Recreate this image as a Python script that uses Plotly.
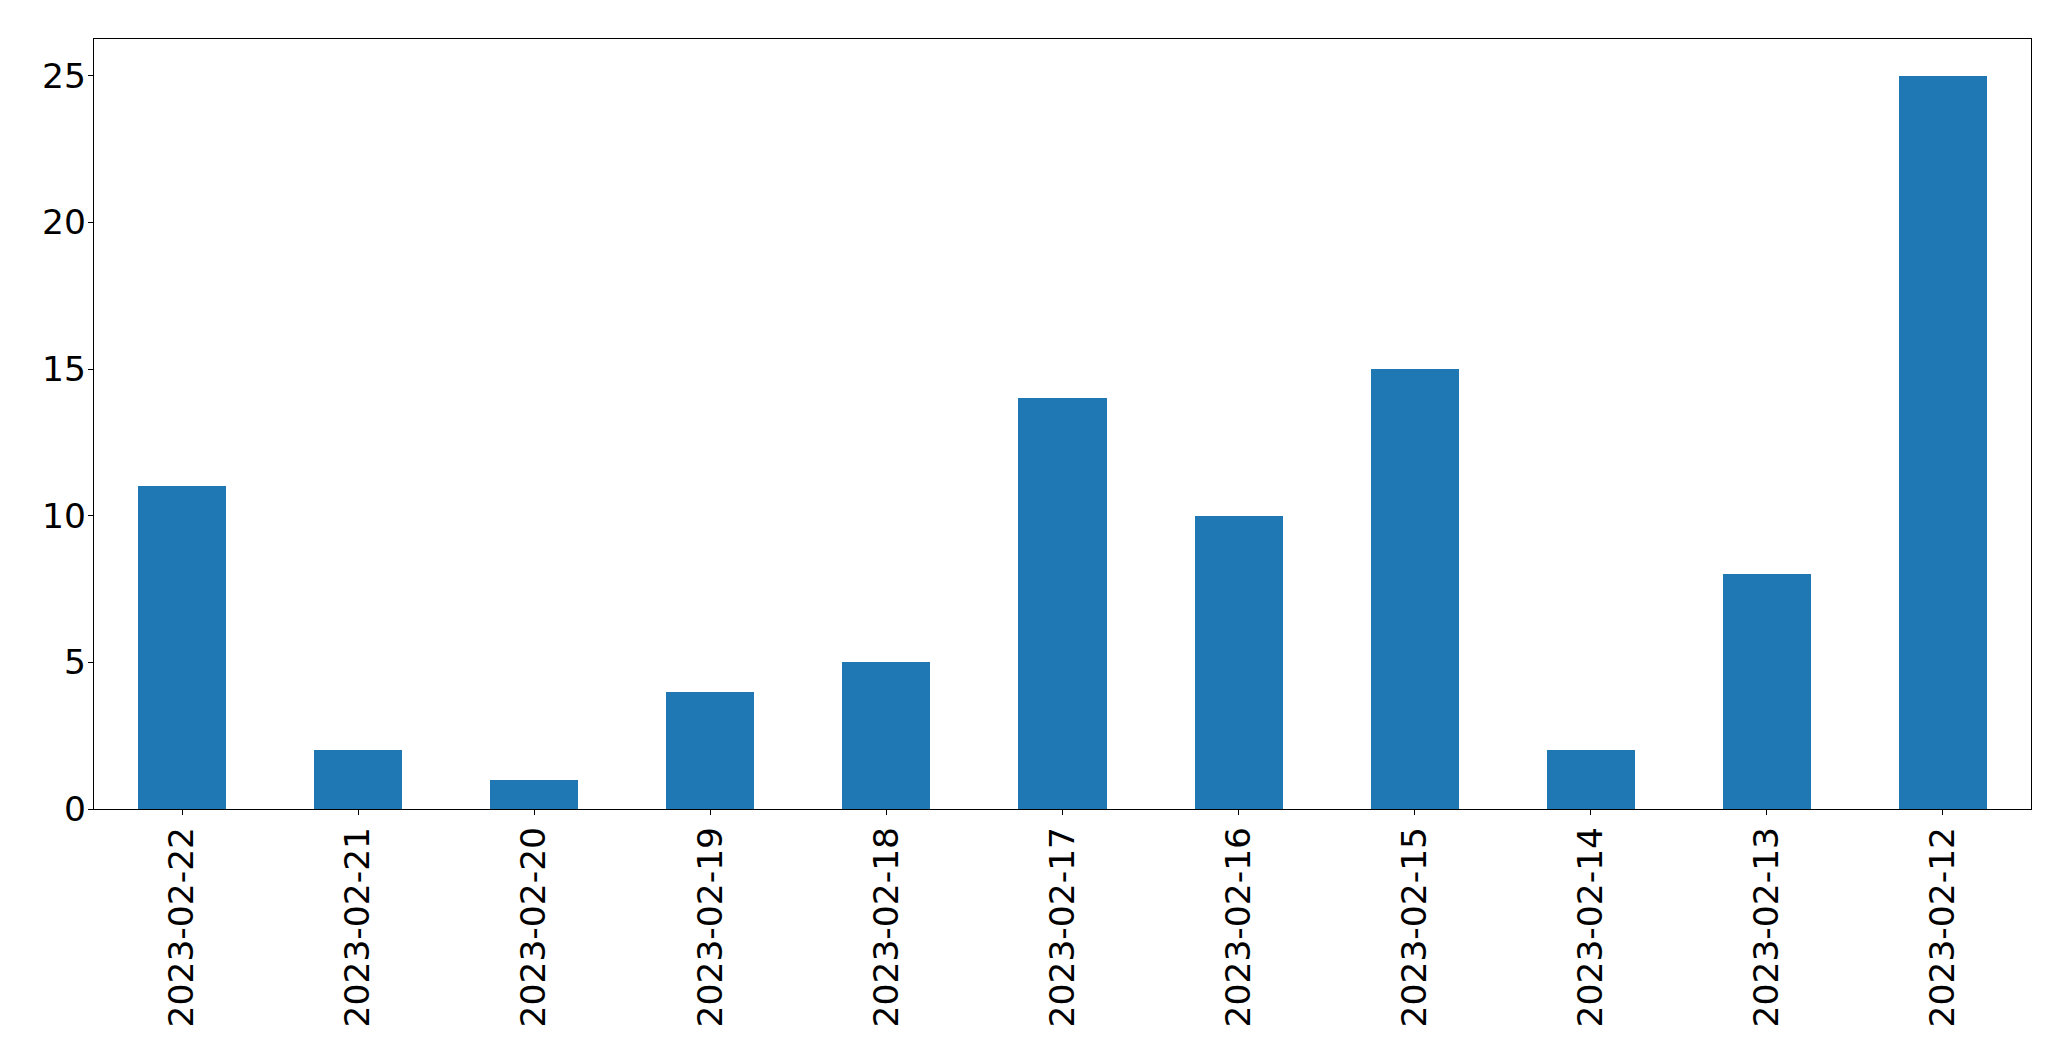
import plotly.graph_objects as go

dates = ["2023-02-22", "2023-02-21", "2023-02-20", "2023-02-19", "2023-02-18",
         "2023-02-17", "2023-02-16", "2023-02-15", "2023-02-14", "2023-02-13",
         "2023-02-12"]
counts = [11, 2, 1, 4, 5, 14, 10, 15, 2, 8, 25]
y_ticks = [0, 5, 10, 15, 20, 25]

fig = go.Figure(go.Bar(x=dates, y=counts, width=0.5, marker_color="#1f77b4",
                       marker_line_width=0))

font = dict(family="DejaVu Sans", size=34.5, color="black")
fig.update_layout(
    width=2055, height=1045, autosize=False,
    margin=dict(l=86, r=32, t=31, b=244),
    plot_bgcolor="white", paper_bgcolor="white",
    font=font, showlegend=False, bargap=0,
)
fig.update_xaxes(type="category", range=[-0.5, len(dates) - 0.5],
                 showline=True, linecolor="black", linewidth=1.3, mirror=True,
                 ticks="outside", ticklen=5, tickwidth=1.3, tickcolor="black",
                 tickangle=-90, showgrid=False, tickfont=font,
                 ticklabelstandoff=-2)
fig.update_yaxes(range=[0, 26.25], tickvals=y_ticks,
                 showline=True, linecolor="black", linewidth=1.3, mirror=True,
                 ticks="outside", ticklen=5, tickwidth=1.3, tickcolor="black",
                 showgrid=False, zeroline=False, tickfont=font,
                 ticklabelstandoff=-5)

fig.write_html("out.html")
